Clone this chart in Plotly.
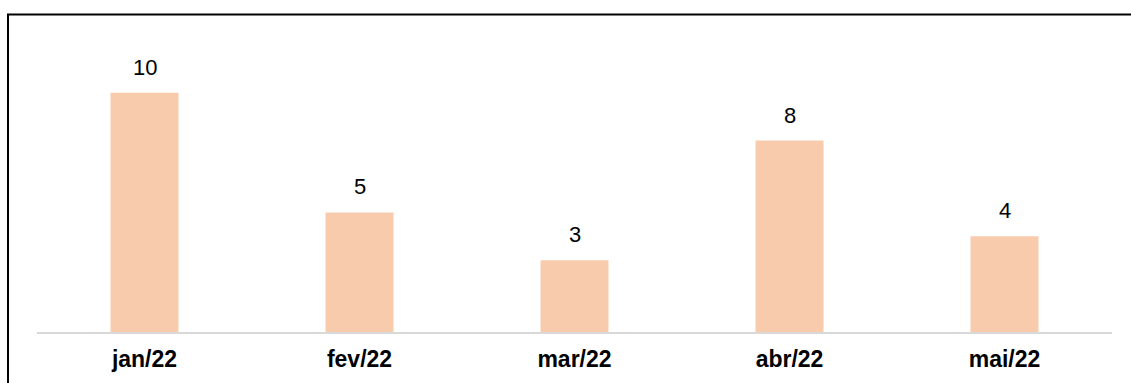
import plotly.graph_objects as go

# Monthly counts
months = ["jan/22", "fev/22", "mar/22", "abr/22", "mai/22"]
counts = [10, 5, 3, 8, 4]

BAR_COLOR = "#F8CBAD"
FONT = "Liberation Sans, Arial, sans-serif"

fig = go.Figure()
fig.add_trace(go.Bar(
    x=months,
    y=counts,
    marker=dict(color=BAR_COLOR, line=dict(width=0)),
    width=0.316,
    hoverinfo="x+y",
))

# Value labels above each bar
for m, v in zip(months, counts):
    fig.add_annotation(
        x=m, y=v, text=str(v), showarrow=False,
        yanchor="bottom", yshift=11,
        font=dict(family=FONT, size=22, color="#000000"),
    )

L, R, T, B = 37, 19, 20.5, 50.5
W, H = 1131, 383
pw, ph = W - L - R, H - T - B

# Outer frame around the chart (right and bottom edges fall outside the page)
fig.add_shape(
    type="rect", xref="paper", yref="paper",
    x0=(8 - L) / pw, x1=(W + 10 - L) / pw,
    y0=-(B + 10) / ph, y1=(H - B - 14) / ph,
    line=dict(color="#000000", width=2), fillcolor="rgba(0,0,0,0)",
    layer="above",
)

fig.update_layout(
    width=W, height=H,
    margin=dict(l=L, r=R, t=T, b=B, pad=0),
    paper_bgcolor="white", plot_bgcolor="white",
    showlegend=False,
    font=dict(family=FONT, color="#000000"),
    xaxis=dict(
        showline=True, linecolor="#D9D9D9", linewidth=1.5,
        showgrid=False, zeroline=False, ticks="",
        ticklabelstandoff=6,
        tickfont=dict(family=FONT, size=23, color="#000000", weight="bold"),
    ),
    yaxis=dict(
        range=[0, 13], visible=False, showgrid=False, zeroline=False,
    ),
    bargap=0.684,
)

fig.write_html("out.html")
